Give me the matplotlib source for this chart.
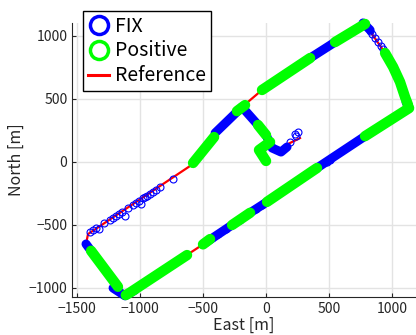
import numpy as np
import matplotlib
matplotlib.use('Agg')
import matplotlib.pyplot as plt
from matplotlib.lines import Line2D

plt.rcParams['font.family'] = ['Noto Sans CJK JP', 'DejaVu Sans']
plt.rcParams['axes.unicode_minus'] = True

# Reference route [m]
ref_east = [270, 175, 111, 56, 16, -64, -191, -32, 787, 930, 1002, 1057, 1105, 1137,
            -501, -1121, -1431, -1415, -580, -405, -191]
ref_north = [188, 141, 77, 109, 188, 292, 435, 570, 1095, 888, 793, 681, 514, 435,
             -657, -1066, -654, -575, -18, 212, 435]

# FIX solution: dense stretches (east list, north list) and isolated epochs
fix_runs = [
    ([350, 549], [824, 951]),
    ([771, 827], [1103, 1047]),
    ([1113, 1137], [474, 426]),
    ([787, 405], [203, -50]),
    ([8, -127], [-319, -406]),
    ([-270, -501], [-503, -657]),
    ([-1216, -1121, -1040], [-1004, -1066, -1020]),
    ([-1391, -1431], [-708, -654]),
    ([-405, -191], [228, 435]),
    ([-191, -64], [435, 292]),
    ([0, 48, 119, 167], [212, 109, 77, 117]),
]
fix_east = [-1399, -1375, -1352, -1328, -1288, -1240, -1216, -1193, -1169, -1145, -1121,
            -1097, -1057, -1034, -1010, -994, -978, -962, -946, -922, -898, -874, -843, -739,
            803, 827, 843, 867, 890, 914, 930,
            191, 231, 254, 239,
            509, 485, -32, -80, -207, -318, -382, -429, -477]
fix_north = [-560, -545, -530, -535, -490, -460, -444, -428, -413, -397, -432,
             -367, -342, -327, -311, -333, -291, -280, -270, -255, -240, -225, -204, -138,
             1071, 1039, 1015, 983, 952, 920, 896,
             157, 220, 236, 204,
             14, 1, -343, -375, -460, -534, -576, -608, -640]

# Positive (float) solution stretches
pos_runs = [
    ([-32, 350], [570, 824]),
    ([549, 787], [951, 1095]),
    ([946, 1010, 1065, 1105, 1129], [864, 753, 634, 514, 450]),
    ([1137, 787], [426, 203]),
    ([405, 8], [-50, -319]),
    ([-127, -270], [-406, -503]),
    ([-445, -501], [-615, -657]),
    ([-628, -1081, -1115], [-742, -1040, -1060]),
    ([-1177, -1391], [-994, -708]),
    ([-580, -413], [-10, 196]),
    ([-231, -167], [402, 450]),
    ([-64, 0], [292, 212]),
    ([32, -56, 0], [157, 93, 6]),
]

fig = plt.figure(figsize=(4.16, 3.35), dpi=100)
ax = fig.add_axes([0.1738, 0.1143, 0.8262, 0.8161])

ax.plot(ref_east, ref_north, color='#ff0000', lw=1.6, zorder=2)
for e, n in fix_runs:
    ax.plot(e, n, color='#0000ff', lw=6.5, solid_capstyle='round', zorder=3, clip_on=False)
ax.plot(fix_east, fix_north, 'o', mfc='none', mec='#0000ff', ms=5, mew=0.8, zorder=3)
for e, n in pos_runs:
    ax.plot(e, n, color='#00ff00', lw=7.5, solid_capstyle='round', zorder=4, clip_on=False)

ax.set_xlim(-1540, 1192)
ax.set_ylim(-1073, 1100)
ax.set_xticks([-1500, -1000, -500, 0, 500, 1000])
ax.set_yticks([-1000, -500, 0, 500, 1000])
ax.grid(True, color='#e3e3e3', lw=1)
ax.set_axisbelow(True)
for s in ['top', 'right']:
    ax.spines[s].set_visible(False)
for s in ['left', 'bottom']:
    ax.spines[s].set_color('#262626')
ax.tick_params(direction='in', length=3, labelsize=10, colors='#262626')
ax.set_xlabel('East [m]', fontsize=11.5, color='#262626', labelpad=1)
ax.set_ylabel('North [m]', fontsize=11.5, color='#262626', labelpad=3)

handles = [
    Line2D([], [], ls='none', marker='o', mfc='none', mec='#0000ff', ms=13, mew=2.5),
    Line2D([], [], ls='none', marker='o', mfc='none', mec='#00ff00', ms=13, mew=2.5),
    Line2D([], [], color='#ff0000', lw=2.2),
]
leg = fig.legend(handles, ['FIX', 'Positive', 'Reference'], loc='upper left',
                 bbox_to_anchor=(83 / 416, 1 - 10.7 / 335), bbox_transform=fig.transFigure,
                 borderaxespad=0, fontsize=14, fancybox=False, framealpha=1,
                 edgecolor='black', handlelength=1.1, handletextpad=0.3,
                 labelspacing=0.2, borderpad=0.25)
leg.get_frame().set_linewidth(1)

fig.savefig('out.png', dpi=100)
